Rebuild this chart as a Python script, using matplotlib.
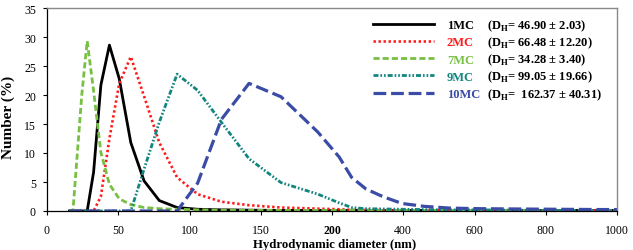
import matplotlib
matplotlib.use("Agg")
import matplotlib.pyplot as plt
import numpy as np

plt.rcParams['font.family'] = 'Liberation Serif'
plt.rcParams['mathtext.fontset'] = 'custom'
plt.rcParams['mathtext.rm'] = 'Liberation Serif:bold'
plt.rcParams['mathtext.bf'] = 'Liberation Serif:bold'

# size bins (nm)
diam = [15.7, 18.2, 21.0, 24.4, 28.2, 32.7, 37.8, 43.8, 50.7, 58.8, 68.1, 78.8,
        91.3, 105.7, 122.4, 141.8, 164.2, 190.1, 220.2, 255.0, 295.3, 342.0,
        396.1, 458.7, 531.2, 615.1, 712.4, 825.0, 955.4, 1106.0]

mc1 = [0, 0, 0, 0, 0, 6.7, 21.7, 28.6, 22.8, 11.8, 5.2, 1.8, 0.6, 0.3, 0.2,
       0.15, 0.1, 0.1, 0.1, 0.1, 0.1, 0.1, 0.1, 0.1, 0.1, 0.1, 0.1, 0.1, 0.1, 0.1]
mc2 = [0, 0, 0, 0, 0, 0, 2.5, 12.5, 22.0, 26.6, 19.8, 11.8, 5.8, 2.9, 1.6,
       1.0, 0.6, 0.4, 0.3, 0.2, 0.2, 0.15, 0.1, 0.1, 0.1, 0.1, 0.1, 0.1, 0.1, 0.1]
mc7 = [0, 0, 9.0, 20.0, 29.3, 20.7, 10.1, 4.6, 2.1, 1.1, 0.6, 0.4, 0.3, 0.2, 0.15,
       0.1, 0.1, 0.1, 0.1, 0.1, 0.1, 0.1, 0.1, 0.1, 0.1, 0.1, 0.1, 0.1, 0.1, 0.1]
mc9 = [0, 0, 0, 0, 0, 0, 0, 0, 0, 0, 7.2, 15.3, 23.6, 20.8, 15.3,
       9.0, 4.9, 2.9, 1.4, 0.6, 0.4, 0.35, 0.3, 0.25, 0.2, 0.2, 0.15, 0.1, 0.1, 0.1]
mc10 = [0, 0, 0, 0, 0, 0, 0, 0, 0, 0, 0, 0, 0, 4.8, 15.8,
        22.0, 19.7, 13.6, 9.3, 5.8, 3.8, 2.5, 1.3, 0.8, 0.5, 0.4, 0.35, 0.3, 0.25, 0.25]

names = ['1MC', '2MC', '7MC', '9MC', '10MC']
dh_labels = [r'(D$_\mathbf{H}$= 46.90 ± 2.03)',
             r'(D$_\mathbf{H}$= 66.48 ± 12.20)',
             r'(D$_\mathbf{H}$= 34.28 ± 3.40)',
             r'(D$_\mathbf{H}$= 99.05 ± 19.66)',
             r'(D$_\mathbf{H}$=  162.37 ± 40.31)']
xticks = [0, 50, 100, 150, 200, 400, 600, 800, 1000]
yticks = [0, 5, 10, 15, 20, 25, 30, 35]

colors = ['black', '#FF1A1A', '#78C043', '#13857F', '#3A4CA5']
styles = ['-', (0, (0.9, 1.0)), (0, (2.2, 1.1)), (0, (1.8, 0.7, 0.6, 0.7, 0.6, 0.7)),
          (0, (4.0, 1.5))]
widths = [2.0, 1.9, 2.0, 2.0, 2.3]


def fwd(x):
    x = np.asarray(x, dtype=float)
    return np.where(x <= 200, x / 50.0, 4 + (x - 200) / 200.0)


def inv(y):
    y = np.asarray(y, dtype=float)
    return np.where(y <= 4, y * 50.0, 200 + (y - 4) * 200.0)


fig = plt.figure(figsize=(6.33, 2.51), dpi=100)
ax = fig.add_axes([47 / 633, 1 - 212 / 251, 570 / 633, 203 / 251])
ax.set_xscale('function', functions=(fwd, inv))

series = [mc1, mc2, mc7, mc9, mc10]
for vals, c, ls, lw, nm in zip(series, colors, styles, widths, names):
    ax.plot(diam, vals, color=c, linestyle=ls, linewidth=lw, label=nm,
            dash_capstyle='butt', solid_joinstyle='round')

ax.set_xlim(0, 1000)
ax.set_ylim(0, 35)
ax.set_xticks(xticks)
ax.set_xticklabels([str(t) for t in xticks])
ax.set_yticks(yticks)
ax.tick_params(axis='both', direction='out', length=3, width=0.8, labelsize=8.5,
               colors='black')
ax.tick_params(axis='x', pad=6)
ax.tick_params(axis='y', pad=5)
for lab in ax.get_xticklabels():
    if lab.get_text() == '200':
        lab.set_fontweight('bold')

for s in ['top', 'right']:
    ax.spines[s].set_color('#8a8a8a')
    ax.spines[s].set_linewidth(1.0)
for s in ['left', 'bottom']:
    ax.spines[s].set_color('black')
    ax.spines[s].set_linewidth(0.9)

ax.set_xlabel('Hydrodynamic diameter (nm)', fontsize=9.2, fontweight='bold')
ax.set_ylabel('Number (%)', fontsize=11, fontweight='bold')
ax.xaxis.label.set_va('center')
ax.yaxis.label.set_va('center')
ax.xaxis.set_label_coords(0.505, -0.165)
ax.yaxis.set_label_coords(-0.068, 0.468)

leg = ax.legend(loc='upper left', bbox_to_anchor=(373 / 633, 1 - 20 / 251),
                bbox_transform=fig.transFigure, frameon=False, borderpad=0,
                borderaxespad=0, handlelength=4.9, handletextpad=1.0,
                labelspacing=0.42, prop={'weight': 'bold', 'size': 9})
for t, c in zip(leg.get_texts(), colors):
    t.set_color(c)

fig.canvas.draw()
rend = fig.canvas.get_renderer()
W, H = fig.bbox.width, fig.bbox.height
for t, lab in zip(leg.get_texts(), dh_labels):
    bb = t.get_window_extent(rend)
    _, _, desc = rend.get_text_width_height_descent('lp', t.get_fontproperties(), ismath=False)
    fig.text((bb.x0 + 40) / W, (bb.y0 + desc) / H, lab, fontsize=9,
             fontweight='bold', color='black', va='baseline', ha='left')

fig.savefig('out.png', dpi=100)
